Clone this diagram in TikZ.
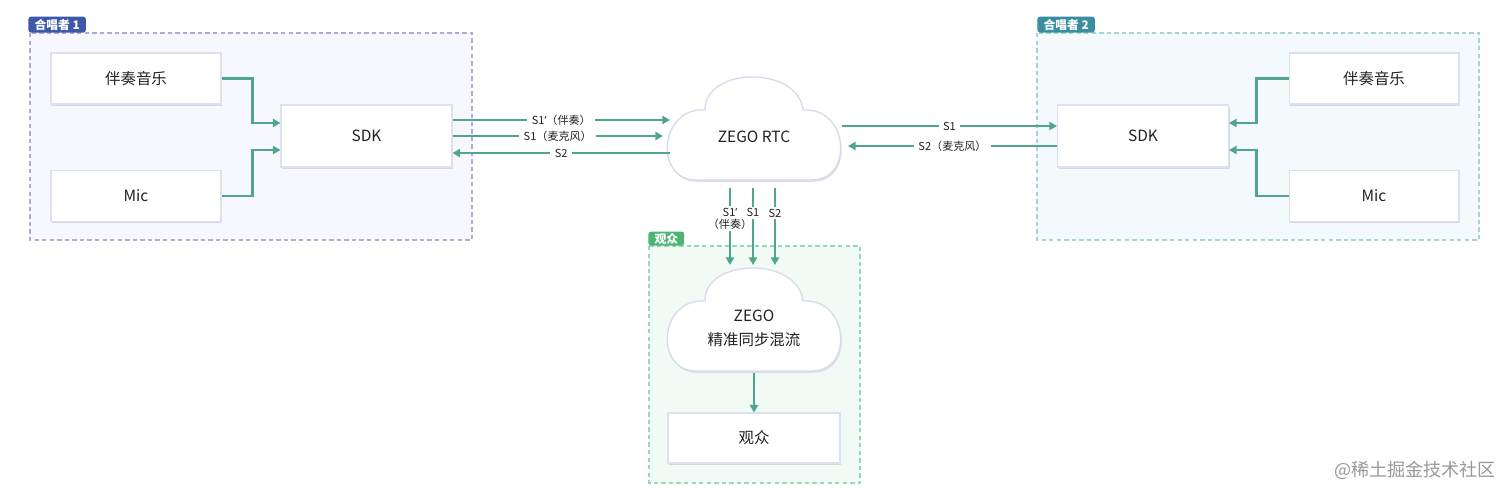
\documentclass[tikz,border=0pt]{standalone}
\usepackage{fontspec}
\setmainfont{Noto Sans CJK SC}
\newfontfamily\lat{Noto Sans}
\usetikzlibrary{arrows.meta,calc,shadows}

\definecolor{flowc}{HTML}{4FA590}
\definecolor{txtc}{HTML}{222222}
\definecolor{boxline}{HTML}{DDE0F0}
\definecolor{shc}{HTML}{CDD0E2}
\definecolor{cloudline}{HTML}{D9DCEC}
\definecolor{galine}{HTML}{A9AED3}
\definecolor{gafill}{HTML}{F7F8FD}
\definecolor{gatab}{HTML}{3E58A8}
\definecolor{gbline}{HTML}{A4D5D3}
\definecolor{gbfill}{HTML}{F4FAFB}
\definecolor{gbtab}{HTML}{3A8EA0}
\definecolor{gcline}{HTML}{95D9B5}
\definecolor{gcfill}{HTML}{F2FAF5}
\definecolor{gctab}{HTML}{4DB573}

\tikzset{
    box/.style={draw=boxline, line width=0.6pt, fill=white, text=txtc,
        minimum width=3.4cm, minimum height=1.02cm, font=\fontsize{8.8}{10}\selectfont,
        drop shadow={shadow xshift=0.8pt, shadow yshift=-1pt, fill=shc, opacity=0.8}},
    cloudtxt/.style={text=txtc, align=center, font=\fontsize{8.8}{13.6}\selectfont},
    cloudline/.style={draw=cloudline, line width=0.8pt, fill=white,
        drop shadow={shadow xshift=0.6pt, shadow yshift=-1pt, fill=shc, opacity=0.7}},
    flow/.style={draw=flowc, line width=1.3pt, -{Triangle[length=4.3pt,width=4.6pt]}},
    lbl/.style={fill=white, text=txtc, inner ysep=1pt, inner xsep=2.5pt, font=\fontsize{6.3}{6.9}\selectfont},
    grp/.style={line width=0.7pt, dash pattern=on 2.5pt off 1.8pt},
    tab/.style={text=white, rounded corners=1.5pt, inner ysep=0pt, inner xsep=3.5pt,
        minimum height=0.32cm, font=\fontsize{6.7}{7}\selectfont\bfseries},
}

\newcommand{\zcloud}[1]{%
    \draw[cloudline, shift={(#1)}] (-58,45) .. controls (-100,45) and (-95,-28) .. (-49,-25)
        .. controls (-50,-68) and (44,-70) .. (49,-25)
        .. controls (95,-28) and (100,45) .. (58,45) -- cycle;}

\begin{document}
\begin{tikzpicture}[x=0.02cm, y=-0.02cm]
    \fill[white] (0,0) rectangle (1512,497);
    \useasboundingbox (0,0) rectangle (1512,497);

    \draw[grp, draw=galine, fill=gafill] (30,33) rectangle (472,240);
    \node[tab, fill=gatab, anchor=south west] (taba) at (28,33) {合唱者 1};
    \draw[grp, draw=gbline, fill=gbfill] (1037,33) rectangle (1479,240);
    \node[tab, fill=gbtab, anchor=south west] (tabb) at (1037,33) {合唱者 2};
    \draw[grp, draw=gcline, fill=gcfill] (649,246) rectangle (860,483);
    \node[tab, fill=gctab, anchor=south west, minimum height=0.28cm] (tabc) at (648,246) {观众};

    \node[box] (acca) at (136,78.5) {伴奏音乐};
    \node[box] (mica) at (136,196) {Mic};
    \node[box, minimum width=3.42cm, minimum height=1.24cm] (sdka) at (366.5,136) {SDK};
    \node[box] (accb) at (1374,78.5) {伴奏音乐};
    \node[box] (micb) at (1374,196) {Mic};
    \node[box, minimum width=3.42cm, minimum height=1.24cm] (sdkb) at (1143,136) {SDK};

    \coordinate (ca) at (754,135);
    \zcloud{ca}
    \node[cloudtxt] (rtc) at (754,137) {ZEGO RTC};
    \coordinate (cb) at (754,326);
    \zcloud{cb}
    \node[cloudtxt] (mix) at (754,328) {ZEGO\\精准同步混流};
    \node[box, minimum width=3.44cm, minimum height=1cm] (aud) at (754,438) {观众};

    \draw[flow] (acca.east) -- ++(31,0) |- ($(sdka.west)+(0,-13)$);
    \draw[flow] (mica.east) -- ++(31,0) |- ($(sdka.west)+(0,14)$);
    \draw[flow] (accb.west) -- ++(-32,0) |- ($(sdkb.east)+(0,-13)$);
    \draw[flow] (micb.west) -- ++(-32,0) |- ($(sdkb.east)+(0,14)$);

    \draw[flow] ($(sdka.east)+(0,-16)$) -- ($(ca)+(-84,-15)$) node[lbl, midway] {S1{\lat ’}（伴奏）};
    \draw[flow] (sdka.east) -- ($(ca)+(-91,1)$) node[lbl, midway] {S1（麦克风）};
    \draw[flow] ($(ca)+(-84,18)$) -- ($(sdka.east)+(0,17)$) node[lbl, midway] {S2};
    \draw[flow] ($(ca)+(88,-9)$) -- ($(sdkb.west)+(0,-10)$) node[lbl, midway] {S1};
    \draw[flow] ($(sdkb.west)+(0,10)$) -- ($(ca)+(94,11)$) node[lbl, midway] {S2（麦克风）};

    \foreach \dx/\p/\lab in {-24/0.40/{S1{\lat ’}\\（伴奏）}, -1/0.32/S1, 21/0.33/S2}{
        \draw[flow] ($(ca)+(\dx,53)$) -- ($(cb)+(\dx,-61)$) node[lbl, pos=\p, align=center, inner xsep=0pt] {\lab};
    }
    \draw[flow] ($(cb)+(0,47)$) -- (aud.north);

    \node[text=black!40, font=\fontsize{10.3}{11}\selectfont] (wm) at (1415,470) {@稀土掘金技术社区};
\end{tikzpicture}
\end{document}
